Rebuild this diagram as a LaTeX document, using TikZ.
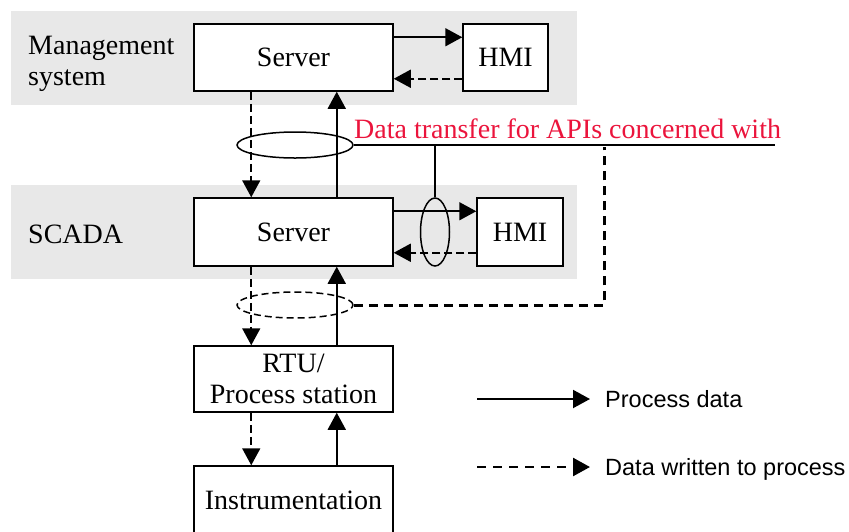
\documentclass[tikz,border=0pt]{standalone}
\usepackage{fontspec}
\setmainfont{Liberation Serif}
\setsansfont{Liberation Sans}
\usetikzlibrary{arrows.meta,shapes.geometric}
\definecolor{bandgray}{RGB}{232,232,232}
\definecolor{apired}{RGB}{235,20,60}
\begin{document}
\begin{tikzpicture}[x=1pt,y=-1pt,font=\fontsize{28}{31}\selectfont,
  box/.style={draw,line width=1.5pt,fill=white,minimum width=199pt,minimum height=67pt,inner sep=0pt,align=center},
  hmibox/.style={box,minimum width=85pt},
  oval/.style={draw,ellipse,line width=1.5pt,inner sep=0pt},
  arr/.style={line width=1.7pt,-{Triangle[length=17pt,width=18pt]}},
  dsh/.style={arr,dash pattern=on 8pt off 4pt},
  thk/.style={line width=3pt,dash pattern=on 9pt off 6pt},
  lgtxt/.style={font=\sffamily\fontsize{23.5}{28}\selectfont,anchor=base west,inner sep=0pt}]
\useasboundingbox (0,0) rectangle (849,531);
\clip (0,0) rectangle (849,531);
\fill[bandgray] (11,11) rectangle (577,105);
\fill[bandgray] (11,185) rectangle (577,279);
\node[anchor=west,align=left,inner sep=0pt] (mgmt) at (28,64) {Management\\system};
\node[anchor=west,inner sep=0pt] (scada) at (28,234) {SCADA};
\node[box] (srvM) at (293.5,57.5) {Server};
\node[hmibox] (hmiM) at (505.5,57.5) {HMI};
\node[box,minimum height=68pt] (srvS) at (293.5,232) {Server};
\node[hmibox,minimum width=86pt,minimum height=68pt] (hmiS) at (520,232) {HMI};
\node[box,minimum height=66pt] (rtu) at (293.5,379) {RTU/\\Process station};
\node[box,minimum height=68pt] (inst) at (293.5,500) {Instrumentation};
\draw[arr] ([yshift=-14pt]srvM.north east) -- ([yshift=-14pt]hmiM.north west);
\draw[dsh] ([yshift=13pt]hmiM.south west) -- ([yshift=13pt]srvM.south east);
\draw[arr] ([yshift=-14pt]srvS.north east) -- ([yshift=-14pt]hmiS.north west);
\draw[dsh] ([yshift=14pt]hmiS.south west) -- ([yshift=14pt]srvS.south east);
\draw[dsh] ([xshift=58pt]srvM.south west) -- ([xshift=58pt]srvS.north west);
\draw[arr] ([xshift=-57pt]srvS.north east) -- ([xshift=-57pt]srvM.south east);
\draw[dsh] ([xshift=58pt]srvS.south west) -- ([xshift=58pt]rtu.north west);
\draw[arr] ([xshift=-57pt]rtu.north east) -- ([xshift=-57pt]srvS.south east);
\draw[dsh] ([xshift=58pt]rtu.south west) -- ([xshift=58pt]inst.north west);
\draw[arr] ([xshift=-57pt]inst.north east) -- ([xshift=-57pt]rtu.south east);
\node[oval,minimum width=116pt,minimum height=26pt] (ovA) at (295,145) {};
\node[oval,dash pattern=on 7pt off 4pt,minimum width=116pt,minimum height=26pt] (ovB) at (295,305) {};
\node[oval,minimum width=29pt,minimum height=68pt] (ovC) at (435,232) {};
\node[apired,anchor=base west,inner sep=0pt] (api) at (354,138) {Data transfer for APIs concerned with};
\coordinate (apiEnd) at (775,145);
\coordinate (apiDrop) at (604,147);
\draw[line width=1.5pt] (ovA.east) -- (apiEnd);
\draw[line width=1.5pt] (ovC.north) -- (ovC.north |- apiEnd);
\draw[thk] (ovB.east) -| (apiDrop);
\node[lgtxt] (lgP) at (605,407) {Process data};
\node[lgtxt] (lgW) at (605,475) {Data written to process};
\coordinate (lgA) at (477,399);
\coordinate (lgAe) at (590,399);
\coordinate (lgB) at (477,467);
\coordinate (lgBe) at (590,467);
\draw[arr,line width=2pt] (lgA) -- (lgAe);
\draw[arr,line width=2.5pt,dash pattern=on 9pt off 7pt] (lgB) -- (lgBe);
\end{tikzpicture}
\end{document}
